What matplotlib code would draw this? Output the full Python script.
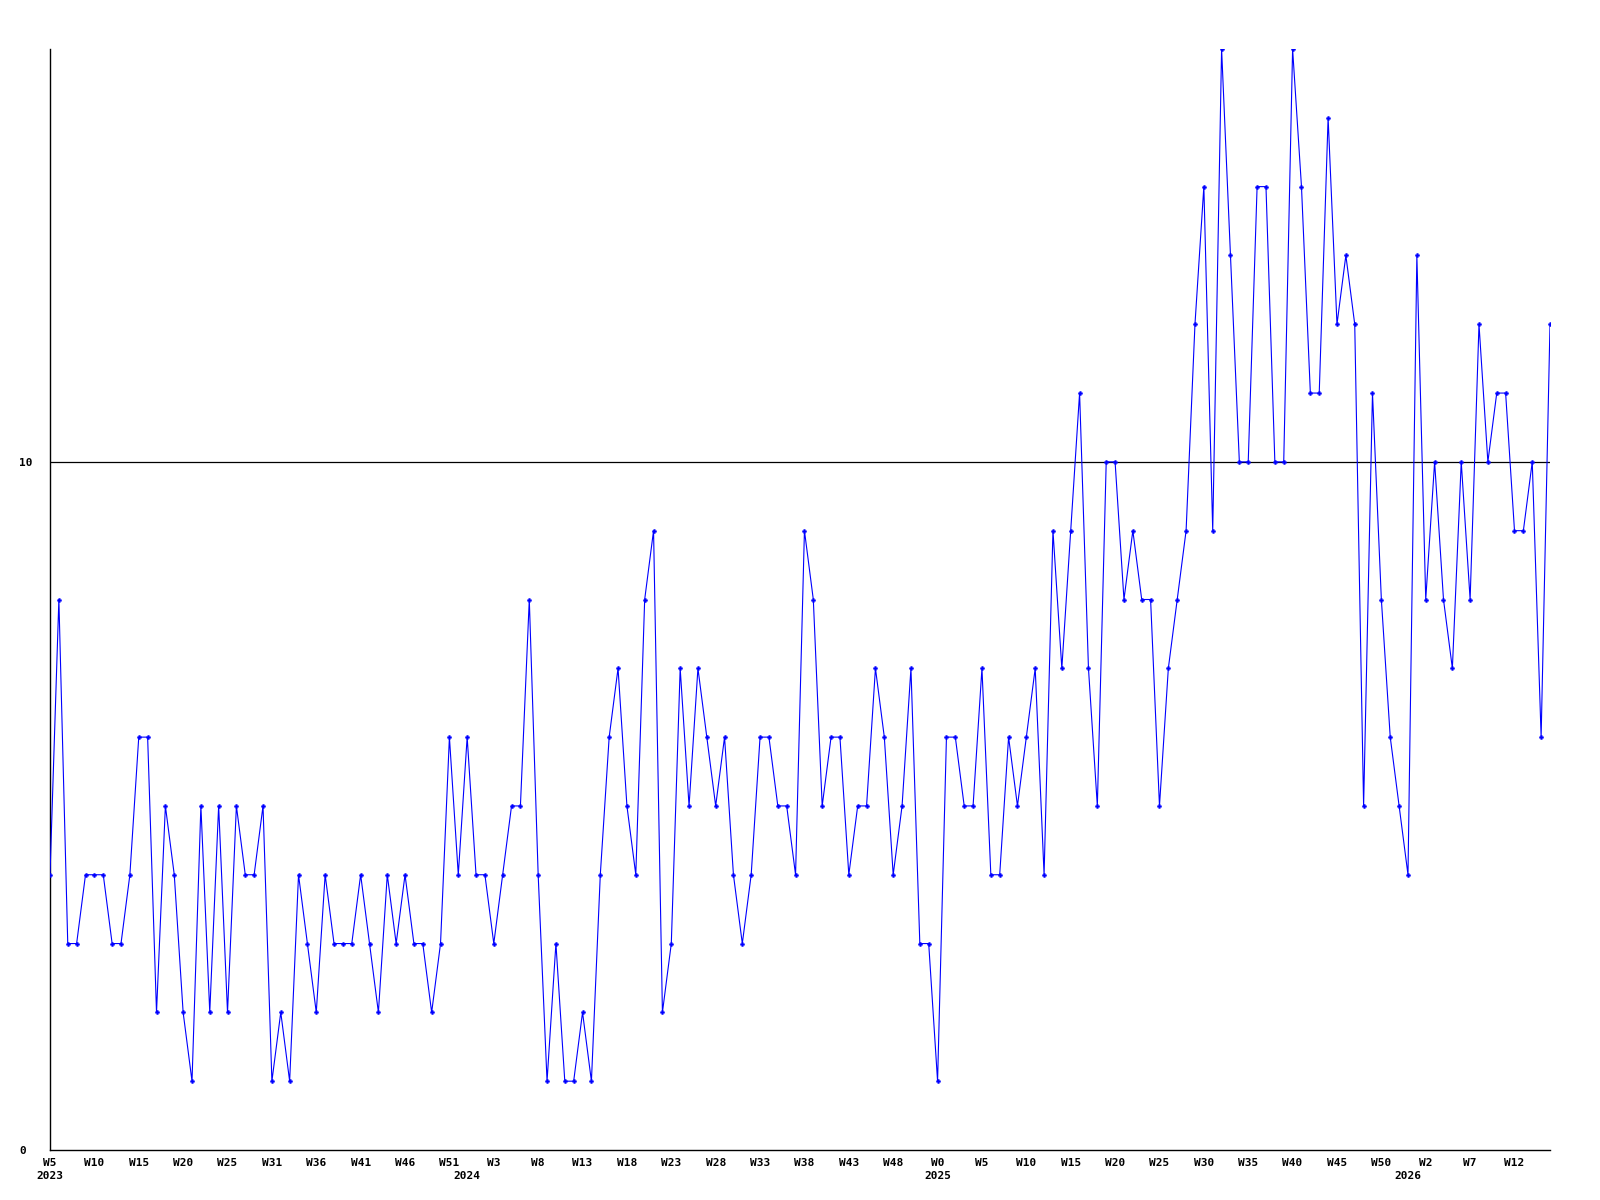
import matplotlib
matplotlib.use("Agg")
import matplotlib.pyplot as plt

# weekly values, 2023 W5 onward
values = [
    4, 8, 3, 3, 4, 4, 4, 3, 3, 4, 6, 6, 2, 5, 4, 2, 1, 5, 2, 5, 2,
    5, 4, 4, 5, 1, 2, 1, 4, 3, 2, 4, 3, 3, 3, 4, 3, 2, 4, 3, 4, 3, 3,
    2, 3, 6, 4, 6, 4, 4, 3, 4, 5, 5, 8, 4, 1, 3, 1, 1, 2, 1, 4, 6,
    7, 5, 4, 8, 9, 2, 3, 7, 5, 7, 6, 5, 6, 4, 3, 4, 6, 6, 5, 5, 4, 9,
    8, 5, 6, 6, 4, 5, 5, 7, 6, 4, 5, 7, 3, 3, 1, 6, 6, 5, 5, 7, 4,
    4, 6, 5, 6, 7, 4, 9, 7, 9, 11, 7, 5, 10, 10, 8, 9, 8, 8, 5, 7, 8, 9,
    12, 14, 9, 16, 13, 10, 10, 14, 14, 10, 10, 16, 14, 11, 11, 15, 12, 13, 12, 5, 11,
    8, 6, 5, 4, 13, 8, 10, 8, 7, 10, 8, 12, 10, 11, 11, 9, 9, 10, 6, 12,
]

# x tick labels, one every 5 weeks
week_labels = [
    "W5", "W10", "W15", "W20", "W25", "W31", "W36", "W41", "W46", "W51",
    "W3", "W8", "W13", "W18", "W23", "W28", "W33", "W38", "W43", "W48",
    "W0", "W5", "W10", "W15", "W20", "W25", "W30", "W35", "W40", "W45", "W50",
    "W2", "W7", "W12",
]
years = ["2023", "2024", "2025", "2026"]
year_start_index = [0, 47, 100, 153]

y_labels = ["0", "10"]
y_label_values = [0, 10]
reference_value = 10
y_max = 16

mono = {"family": "DejaVu Sans Mono", "weight": "bold", "size": 8}

fig = plt.figure(figsize=(16, 12), dpi=100)
ax = fig.add_axes([50 / 1600, 1 - 1150 / 1200, 1500 / 1600, (1150 - 49) / 1200])

x = list(range(len(values)))
ax.plot(x, values, color="#0000ff", linewidth=0.8, marker="P", markersize=3,
        markerfacecolor="#0000ff", markeredgecolor="#0000ff", markeredgewidth=0.3,
        zorder=3)
ax.axhline(reference_value, color="black", linewidth=0.9, zorder=2)

ax.set_xlim(0, len(values) - 1)
ax.set_ylim(0, y_max)

for s in ("top", "right"):
    ax.spines[s].set_visible(False)
for s in ("left", "bottom"):
    ax.spines[s].set_color("black")
    ax.spines[s].set_linewidth(1.0)

ax.set_xticks(range(0, 5 * len(week_labels), 5))
ax.set_xticklabels(week_labels, fontdict=mono)
ax.tick_params(axis="x", length=0, pad=6)

ax.set_yticks(y_label_values)
ax.set_yticklabels(y_labels, fontdict=mono)
ax.tick_params(axis="y", length=0, pad=22.3)
for lbl in ax.get_yticklabels():
    lbl.set_horizontalalignment("left")

trans = ax.get_xaxis_transform()
for yr, idx in zip(years, year_start_index):
    ax.text(idx, -0.024, yr, transform=trans, ha="center", va="center", **mono)

fig.savefig("out.png", dpi=100, facecolor="white")
